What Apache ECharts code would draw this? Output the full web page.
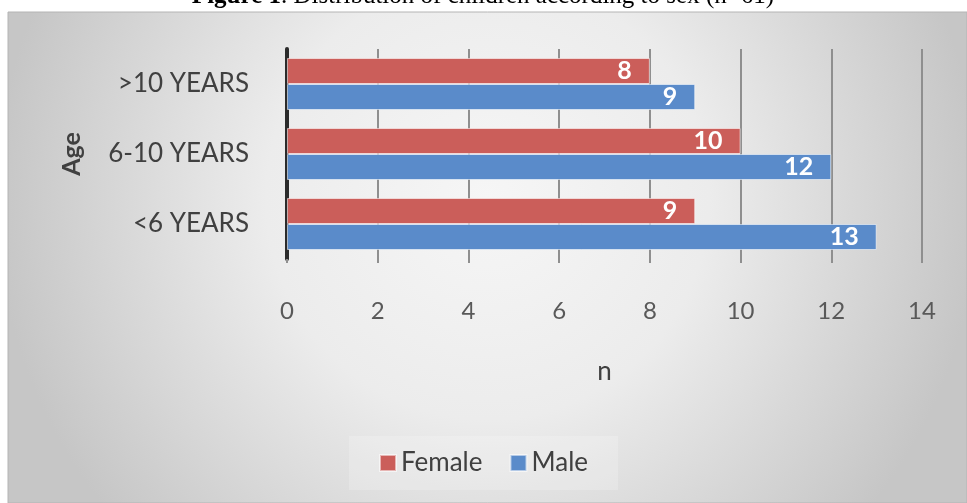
<!DOCTYPE html>
<html>
<head>
<meta charset="utf-8">
<style>
  html, body { margin: 0; padding: 0; background: #fff; }
  #chart { width: 967px; height: 503px; }
</style>
<script src="https://cdn.jsdelivr.net/npm/echarts@6/dist/echarts.min.js"></script>
</head>
<body>
<div id="chart"></div>
<script>
// age groups, bottom → top as the category axis draws them
const AGE_GROUPS = ['<6 YEARS', '6-10 YEARS', '>10 YEARS'];
const FEMALE = [9, 10, 8];
const MALE = [13, 12, 9];
const X_TICKS = { min: 0, max: 14, step: 2 };

const RED = '#CB5E5A';
const BLUE = '#5A8BCA';
const FONT = 'Lato, "Open Sans", sans-serif';

const chart = echarts.init(document.getElementById('chart'), null, { renderer: 'canvas' });

const barLabel = {
  show: true, position: 'insideRight', distance: 18,
  color: '#fff', fontFamily: FONT, fontWeight: 'bold', fontSize: 25,
};

chart.setOption({
  backgroundColor: '#fff',
  animation: false,
  graphic: [
    {
      type: 'rect', z: -100, silent: true,
      shape: { x: 8, y: 12, width: 959, height: 491 },
      style: {
        fill: {
          type: 'radial', x: 0.5, y: 0.38, r: 1.0,
          colorStops: [
            { offset: 0, color: '#f6f6f6' },
            { offset: 0.45, color: '#ececec' },
            { offset: 1, color: '#c6c6c6' },
          ],
        },
        stroke: '#b4b4b4', lineWidth: 1,
      },
    },
    {
      // caption above the chart frame, mostly cut off like the source
      type: 'text', z: -50, silent: true,
      x: 483, y: 9,
      style: {
        text: '{b|Figure 1}. Distribution of children according to sex (n=61)',
        font: '25px "Liberation Serif", serif',
        fill: '#000', align: 'center', verticalAlign: 'bottom',
        rich: { b: { fontWeight: 'bold', fontSize: 25, fontFamily: '"Liberation Serif", serif' } },
      },
    },
  ],
  legend: {
    data: ['Female', 'Male'],
    bottom: 13, left: 'center',
    icon: 'rect', itemWidth: 16, itemHeight: 16, itemGap: 27,
    backgroundColor: 'rgba(255,255,255,0.2)',
    padding: [14, 30],
    textStyle: { color: '#404040', fontFamily: FONT, fontSize: 26 },
  },
  grid: { left: 287, right: 45, top: 49, bottom: 244, containLabel: false },
  xAxis: {
    type: 'value', min: X_TICKS.min, max: X_TICKS.max, interval: X_TICKS.step,
    axisLine: { show: false },
    axisTick: { show: true, length: 4, lineStyle: { color: '#8f8f8f', width: 2 } },
    splitLine: { show: true, lineStyle: { color: '#8f8f8f', width: 2 } },
    axisLabel: { color: '#595959', fontFamily: FONT, fontSize: 24, margin: 40 },
    name: 'n', nameLocation: 'middle', nameGap: 100,
    nameTextStyle: { color: '#404040', fontFamily: FONT, fontSize: 26 },
  },
  yAxis: {
    type: 'category', data: AGE_GROUPS,
    axisLine: { show: true, lineStyle: { color: '#2b2b2b', width: 4 } },
    axisTick: { show: false },
    axisLabel: { color: '#404040', fontFamily: FONT, fontSize: 26, margin: 38 },
    name: 'Age', nameLocation: 'middle', nameGap: 203, nameRotate: 90,
    nameTextStyle: { color: '#404040', fontFamily: FONT, fontSize: 25, fontWeight: 'bold' },
  },
  series: [
    {
      name: 'Female', type: 'bar', data: FEMALE,
      barGap: '0%', barCategoryGap: '25.7%',
      itemStyle: { color: RED, borderColor: 'rgba(255,255,255,0.55)', borderWidth: 1 },
      label: barLabel,
    },
    {
      name: 'Male', type: 'bar', data: MALE,
      barGap: '0%', barCategoryGap: '25.7%',
      itemStyle: { color: BLUE, borderColor: 'rgba(255,255,255,0.55)', borderWidth: 1 },
      label: barLabel,
    },
  ],
});
</script>
</body>
</html>
